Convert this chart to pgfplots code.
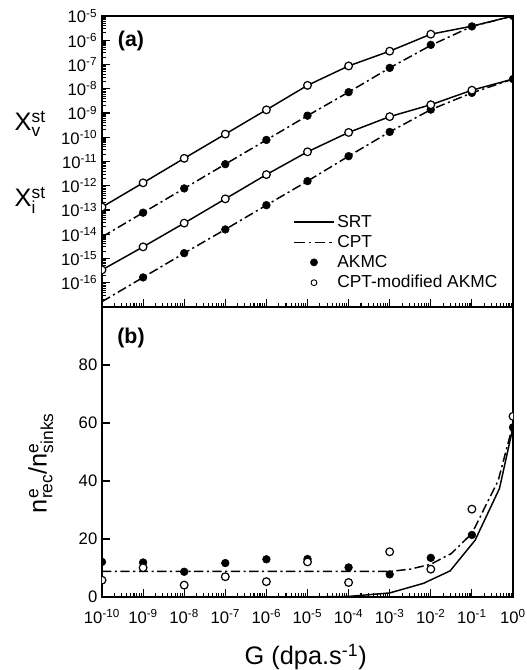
\documentclass[border=0pt]{standalone}
\usepackage{fontspec}
\setmainfont{Liberation Sans}
\usepackage{pgfplots}
\pgfplotsset{compat=1.18}

\pgfplotsset{
  mysrt/.style={black, line width=1.1pt, mark=none},
  mycpt/.style={black, line width=1.1pt, mark=none, dash pattern=on 7pt off 2.6pt on 1.6pt off 2.6pt},
  myfilled/.style={black, only marks, mark=*, mark size=2.9pt, mark options={solid, fill=black}},
  myopen/.style={black, only marks, mark=*, mark size=2.9pt, mark options={solid, fill=white, line width=0.9pt}},
}

\begin{document}
\begin{tikzpicture}
\useasboundingbox (-76.5pt,-54.75pt) rectangle (318pt,447.75pt);

% (a) steady-state concentrations
\begin{axis}[at={(0,217.5pt)}, anchor=south west,
  scale only axis, width=308.25pt, height=218.25pt,
  xmode=log, ymode=log, xmin=1e-10, xmax=1, ymin=1e-17, ymax=1e-5,
  xtick={1e-10,1e-9,1e-8,1e-7,1e-6,1e-5,1e-4,1e-3,1e-2,1e-1,1},
  minor xtick={2e-10,3e-10,4e-10,5e-10,6e-10,7e-10,8e-10,9e-10,2e-9,3e-9,4e-9,5e-9,6e-9,7e-9,8e-9,9e-9,2e-8,3e-8,4e-8,5e-8,6e-8,7e-8,8e-8,9e-8,2e-7,3e-7,4e-7,5e-7,6e-7,7e-7,8e-7,9e-7,2e-6,3e-6,4e-6,5e-6,6e-6,7e-6,8e-6,9e-6,2e-5,3e-5,4e-5,5e-5,6e-5,7e-5,8e-5,9e-5,2e-4,3e-4,4e-4,5e-4,6e-4,7e-4,8e-4,9e-4,2e-3,3e-3,4e-3,5e-3,6e-3,7e-3,8e-3,9e-3,2e-2,3e-2,4e-2,5e-2,6e-2,7e-2,8e-2,9e-2,0.2,0.3,0.4,0.5,0.6,0.7,0.8,0.9},
  ytick={1e-16,1e-15,1e-14,1e-13,1e-12,1e-11,1e-10,1e-9,1e-8,1e-7,1e-6,1e-5},
  yticklabels={10\textsuperscript{-16},10\textsuperscript{-15},10\textsuperscript{-14},10\textsuperscript{-13},10\textsuperscript{-12},10\textsuperscript{-11},10\textsuperscript{-10},10\textsuperscript{-9},10\textsuperscript{-8},10\textsuperscript{-7},10\textsuperscript{-6},10\textsuperscript{-5}},
  minor ytick={2e-17,3e-17,4e-17,5e-17,6e-17,7e-17,8e-17,9e-17,2e-16,3e-16,4e-16,5e-16,6e-16,7e-16,8e-16,9e-16,2e-15,3e-15,4e-15,5e-15,6e-15,7e-15,8e-15,9e-15,2e-14,3e-14,4e-14,5e-14,6e-14,7e-14,8e-14,9e-14,2e-13,3e-13,4e-13,5e-13,6e-13,7e-13,8e-13,9e-13,2e-12,3e-12,4e-12,5e-12,6e-12,7e-12,8e-12,9e-12,2e-11,3e-11,4e-11,5e-11,6e-11,7e-11,8e-11,9e-11,2e-10,3e-10,4e-10,5e-10,6e-10,7e-10,8e-10,9e-10,2e-9,3e-9,4e-9,5e-9,6e-9,7e-9,8e-9,9e-9,2e-8,3e-8,4e-8,5e-8,6e-8,7e-8,8e-8,9e-8,2e-7,3e-7,4e-7,5e-7,6e-7,7e-7,8e-7,9e-7,2e-6,3e-6,4e-6,5e-6,6e-6,7e-6,8e-6,9e-6},
  xticklabels={},
  tick align=inside, tick pos=left,
  major tick length=6pt, minor tick length=3pt,
  axis line style={line width=1.1pt},
  tick style={black, line width=0.8pt},
  tick label style={font=\fontsize{12.5}{14}\selectfont},
  clip marker paths=true,
  legend cell align=left,
  legend style={draw=none, fill=none, at={(0.455,0.335)}, anchor=north west,
    font=\fontsize{13}{15}\selectfont, row sep=0.5pt},
]
% X_v
\addplot[mysrt, forget plot] coordinates {(1e-10,1.32e-13)(1e-9,1.32e-12)(1e-8,1.35e-11)(1e-7,1.35e-10)(1e-6,1.35e-9)(1e-5,1.38e-8)(1e-4,8.71e-8)(1e-3,3.55e-7)(1e-2,1.78e-6)(1e-1,3.80e-6)(1,1e-5)};
\addplot[mycpt, forget plot] coordinates {(1e-10,7.76e-15)(1e-9,7.76e-14)(1e-8,7.76e-13)(1e-7,7.76e-12)(1e-6,7.76e-11)(1e-5,7.76e-10)(1e-4,7.24e-9)(1e-3,7.24e-8)(1e-2,6.17e-7)(1e-1,3.72e-6)(1,1e-5)};
% X_i
\addplot[mysrt, forget plot] coordinates {(1e-10,3.39e-16)(1e-9,3.02e-15)(1e-8,2.88e-14)(1e-7,2.88e-13)(1e-6,2.88e-12)(1e-5,2.51e-11)(1e-4,1.58e-10)(1e-3,7.08e-10)(1e-2,2.19e-9)(1e-1,8.71e-9)(1,2.51e-8)};
\addplot[mycpt, forget plot] coordinates {(1e-10,1.66e-17)(1e-9,1.66e-16)(1e-8,1.66e-15)(1e-7,1.58e-14)(1e-6,1.58e-13)(1e-5,1.55e-12)(1e-4,1.66e-11)(1e-3,1.66e-10)(1e-2,1.38e-9)(1e-1,6.76e-9)(1,2.51e-8)};
% AKMC
\addplot[myfilled, forget plot] coordinates {(1e-9,7.76e-14)(1e-8,7.76e-13)(1e-7,7.76e-12)(1e-6,7.76e-11)(1e-5,7.76e-10)(1e-4,7.24e-9)(1e-3,7.24e-8)(1e-2,6.46e-7)(1e-1,3.72e-6)(1,1e-5)};
\addplot[myfilled, forget plot] coordinates {(1e-9,1.66e-16)(1e-8,1.66e-15)(1e-7,1.58e-14)(1e-6,1.58e-13)(1e-5,1.55e-12)(1e-4,1.66e-11)(1e-3,1.66e-10)(1e-2,1.38e-9)(1e-1,6.76e-9)(1,2.51e-8)};
% CPT-modified AKMC
\addplot[myopen, forget plot] coordinates {(1e-10,1.32e-13)(1e-9,1.32e-12)(1e-8,1.35e-11)(1e-7,1.35e-10)(1e-6,1.35e-9)(1e-5,1.38e-8)(1e-4,8.71e-8)(1e-3,3.55e-7)(1e-2,1.78e-6)};
\addplot[myopen, forget plot] coordinates {(1e-10,3.39e-16)(1e-9,3.02e-15)(1e-8,2.88e-14)(1e-7,2.88e-13)(1e-6,2.88e-12)(1e-5,2.51e-11)(1e-4,1.58e-10)(1e-3,7.08e-10)(1e-2,2.19e-9)(1e-1,8.71e-9)};

\addlegendimage{legend image code/.code={\draw[black, line width=1.1pt] (0pt,0pt) -- (30pt,0pt);}}
\addlegendentry{SRT}
\addlegendimage{legend image code/.code={\draw[black, line width=1.1pt, dash pattern=on 8pt off 3pt on 1.6pt off 3pt] (0pt,0pt) -- (30pt,0pt);}}
\addlegendentry{CPT}
\addlegendimage{legend image code/.code={\fill[black] (15pt,0pt) circle[radius=2.7pt];}}
\addlegendentry{AKMC}
\addlegendimage{legend image code/.code={\draw[black, line width=0.7pt, fill=white] (15pt,0pt) circle[radius=2.2pt];}}
\addlegendentry{CPT-modified AKMC}
\end{axis}

% (b) recombination / sinks ratio
\begin{axis}[at={(0,0)}, anchor=south west,
  scale only axis, width=308.25pt, height=217.5pt,
  xmode=log, xmin=1e-10, xmax=1, ymin=0, ymax=100,
  xtick={1e-10,1e-9,1e-8,1e-7,1e-6,1e-5,1e-4,1e-3,1e-2,1e-1,1},
  xticklabels={10\textsuperscript{-10},10\textsuperscript{-9},10\textsuperscript{-8},10\textsuperscript{-7},10\textsuperscript{-6},10\textsuperscript{-5},10\textsuperscript{-4},10\textsuperscript{-3},10\textsuperscript{-2},10\textsuperscript{-1},10\textsuperscript{0}},
  minor xtick={2e-10,3e-10,4e-10,5e-10,6e-10,7e-10,8e-10,9e-10,2e-9,3e-9,4e-9,5e-9,6e-9,7e-9,8e-9,9e-9,2e-8,3e-8,4e-8,5e-8,6e-8,7e-8,8e-8,9e-8,2e-7,3e-7,4e-7,5e-7,6e-7,7e-7,8e-7,9e-7,2e-6,3e-6,4e-6,5e-6,6e-6,7e-6,8e-6,9e-6,2e-5,3e-5,4e-5,5e-5,6e-5,7e-5,8e-5,9e-5,2e-4,3e-4,4e-4,5e-4,6e-4,7e-4,8e-4,9e-4,2e-3,3e-3,4e-3,5e-3,6e-3,7e-3,8e-3,9e-3,2e-2,3e-2,4e-2,5e-2,6e-2,7e-2,8e-2,9e-2,0.2,0.3,0.4,0.5,0.6,0.7,0.8,0.9},
  ytick={0,20,40,60,80}, yticklabels={0,20,40,60,80},
  tick align=inside, tick pos=left,
  major tick length=6pt, minor tick length=3pt,
  axis line style={line width=1.1pt},
  tick style={black, line width=0.8pt},
  tick label style={font=\fontsize{12.5}{14}\selectfont},
  xticklabel style={yshift=-6pt},
  clip marker paths=true,
]
\addplot[mysrt] coordinates {(1e-10,0)(1e-5,0)(1e-4,0.2)(1e-3,1.4)(6.6e-3,4.7)(2.95e-2,9.0)(0.12,19.6)(0.468,37.4)(1,58.5)};
\addplot[mycpt] coordinates {(1e-10,8.8)(1e-3,8.8)(3.16e-3,9.6)(1e-2,11.3)(3.16e-2,15.0)(0.1,21.9)(0.437,40.2)(1,59.5)};
\addplot[myfilled] coordinates {(1e-10,12.1)(1e-9,11.9)(1e-8,8.7)(1e-7,11.7)(1e-6,13.0)(1e-5,13.1)(1e-4,10.2)(1e-3,7.8)(1e-2,13.5)(0.1,21.4)(1,58.5)};
\addplot[myopen] coordinates {(1e-10,5.8)(1e-9,10.1)(1e-8,4.1)(1e-7,7.0)(1e-6,5.3)(1e-5,12.1)(1e-4,5.0)(1e-3,15.6)(1e-2,9.6)(0.1,30.3)(1,62.3)};
\end{axis}

% labels
\node[font=\bfseries\fontsize{16}{18}\selectfont] at (21.75pt,417pt) {(a)};
\node[font=\bfseries\fontsize{16}{18}\selectfont] at (21.75pt,194.6pt) {(b)};
\node[anchor=base west, font=\fontsize{19}{20}\selectfont] at (-69pt,349.5pt)
  {X$^{\mbox{\fontsize{13}{13}\selectfont st}}_{\mbox{\fontsize{13}{13}\selectfont v}}$};
\node[anchor=base west, font=\fontsize{19}{20}\selectfont] at (-69pt,292.5pt)
  {X$^{\mbox{\fontsize{13}{13}\selectfont st}}_{\mbox{\fontsize{13}{13}\selectfont i}}$};
\node[rotate=90, anchor=base, font=\fontsize{19}{20}\selectfont] at (-41.5pt,100.5pt)
  {n$^{\mbox{\fontsize{13}{13}\selectfont e}}_{\mbox{\fontsize{13}{13}\selectfont rec}}$/n$^{\mbox{\fontsize{13}{13}\selectfont e}}_{\mbox{\fontsize{13}{13}\selectfont sinks}}$};
\node[anchor=base, font=\fontsize{19}{20}\selectfont] at (152.8pt,-51pt)
  {G (dpa.s\textsuperscript{-1})};
\end{tikzpicture}
\end{document}
